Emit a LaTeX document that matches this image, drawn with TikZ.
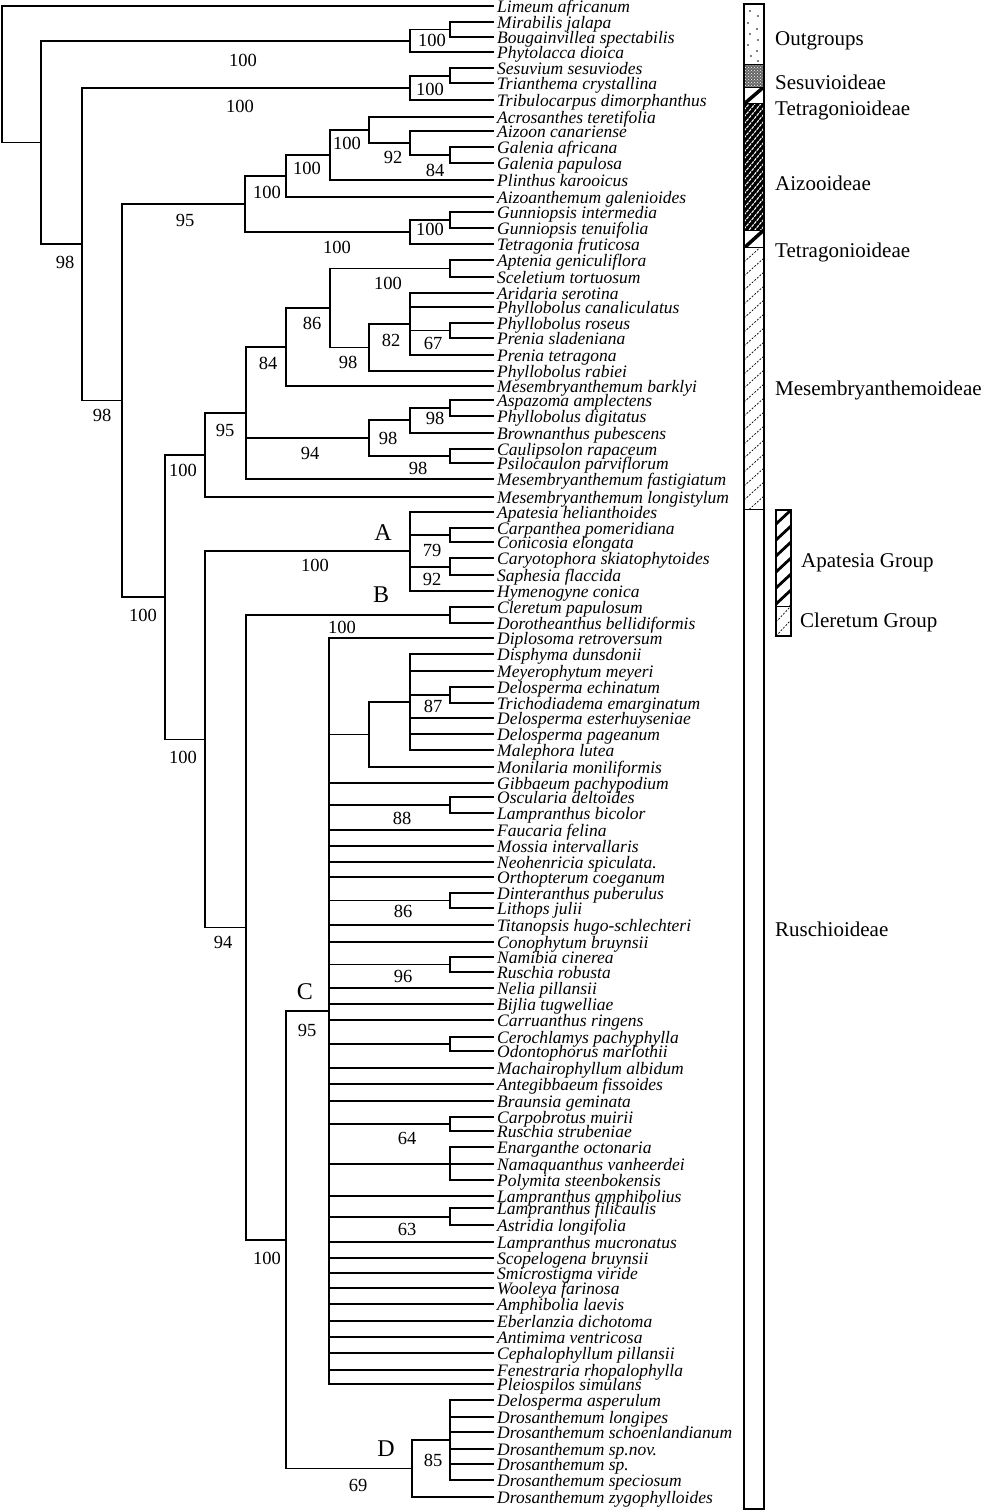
\documentclass[tikz,border=0pt]{standalone}
\usepackage{fontspec}
\setmainfont{Liberation Serif}
\usetikzlibrary{calc,patterns}
\newcommand\lf[3]{\node[leaf] (#1) at (493,#2) {#3};}
\newcommand\tn[4]{\path let \p1=(#3), \p2=(#4) in (#2pt,{0.5*(\y1+\y2)}) coordinate (#1);}
\newcommand\ed[2]{\foreach \ch in {#2}{\draw[br] (#1) |- (\ch);}}
\begin{document}
\begin{tikzpicture}[x=1pt,y=-1pt,
  leaf/.style={anchor=west,inner xsep=4pt,inner ysep=0pt,text height=13pt,text depth=0pt,font=\fontsize{17.5}{17.5}\selectfont\itshape},
  br/.style={line width=1.7pt,line cap=rect},
  bs/.style={inner sep=0pt,font=\fontsize{18.5}{18.5}\selectfont},
  cl/.style={inner sep=0pt,font=\fontsize{24}{24}\selectfont},
  grp/.style={anchor=base west,inner sep=0pt,font=\fontsize{21}{21}\selectfont},
  barline/.style={line width=1.5pt},
  thinhatch/.style={line width=0.7pt,dash pattern=on 2pt off 1.5pt},
]
\useasboundingbox (0,0) rectangle (990,1512);
\fill[white] (0,0) rectangle (990,1512);
% ---------------- leaves
\lf{L1}{6}{Limeum africanum}
\lf{L2}{21.7}{Mirabilis jalapa}
\lf{L3}{37.3}{Bougainvillea spectabilis}
\lf{L4}{52.3}{Phytolacca dioica}
\lf{L5}{68.3}{Sesuvium sesuviodes}
\lf{L6}{83.3}{Trianthema crystallina}
\lf{L7}{100}{Tribulocarpus dimorphanthus}
\lf{L8}{116.7}{Acrosanthes teretifolia}
\lf{L9}{130.7}{Aizoon canariense}
\lf{L10}{146.7}{Galenia africana}
\lf{L11}{163.3}{Galenia papulosa}
\lf{L12}{180}{Plinthus karooicus}
\lf{L13}{196.7}{Aizoanthemum galenioides}
\lf{L14}{212.3}{Gunniopsis intermedia}
\lf{L15}{227.7}{Gunniopsis tenuifolia}
\lf{L16}{244}{Tetragonia fruticosa}
\lf{L17}{260}{Aptenia geniculiflora}
\lf{L18}{276.7}{Sceletium tortuosum}
\lf{L19}{292.7}{Aridaria serotina}
\lf{L20}{306.7}{Phyllobolus canaliculatus}
\lf{L21}{322.7}{Phyllobolus roseus}
\lf{L22}{338.3}{Prenia sladeniana}
\lf{L23}{355}{Prenia tetragona}
\lf{L24}{371}{Phyllobolus rabiei}
\lf{L25}{386}{Mesembryanthemum barklyi}
\lf{L26}{400}{Aspazoma amplectens}
\lf{L27}{415.7}{Phyllobolus digitatus}
\lf{L28}{432.7}{Brownanthus pubescens}
\lf{L29}{449.3}{Caulipsolon rapaceum}
\lf{L30}{463.3}{Psilocaulon parviflorum}
\lf{L31}{479.3}{Mesembryanthemum fastigiatum}
\lf{L32}{496.7}{Mesembryanthemum longistylum}
\lf{L33}{511.7}{Apatesia helianthoides}
\lf{L34}{528.3}{Carpanthea pomeridiana}
\lf{L35}{542.3}{Conicosia elongata}
\lf{L36}{558.3}{Caryotophora skiatophytoides}
\lf{L37}{575}{Saphesia flaccida}
\lf{L38}{590.7}{Hymenogyne conica}
\lf{L39}{607.3}{Cleretum papulosum}
\lf{L40}{623.3}{Dorotheanthus bellidiformis}
\lf{L41}{638.3}{Diplosoma retroversum}
\lf{L42}{654.3}{Disphyma dunsdonii}
\lf{L43}{670.7}{Meyerophytum meyeri}
\lf{L44}{687.3}{Delosperma echinatum}
\lf{L45}{703.3}{Trichodiadema emarginatum}
\lf{L46}{718.3}{Delosperma esterhuyseniae}
\lf{L47}{734}{Delosperma pageanum}
\lf{L48}{750}{Malephora lutea}
\lf{L49}{766.7}{Monilaria moniliformis}
\lf{L50}{782.7}{Gibbaeum pachypodium}
\lf{L51}{796.7}{Oscularia deltoides}
\lf{L52}{813.3}{Lampranthus bicolor}
\lf{L53}{830}{Faucaria felina}
\lf{L54}{846}{Mossia intervallaris}
\lf{L55}{861.7}{Neohenricia spiculata.}
\lf{L56}{876.7}{Orthopterum coeganum}
\lf{L57}{892.7}{Dinteranthus puberulus}
\lf{L58}{908.3}{Lithops julii}
\lf{L59}{925}{Titanopsis hugo-schlechteri}
\lf{L60}{941.7}{Conophytum bruynsii}
\lf{L61}{957.3}{Namibia cinerea}
\lf{L62}{971.7}{Ruschia robusta}
\lf{L63}{988.3}{Nelia pillansii}
\lf{L64}{1004.3}{Bijlia tugwelliae}
\lf{L65}{1020}{Carruanthus ringens}
\lf{L66}{1036.7}{Cerochlamys pachyphylla}
\lf{L67}{1051}{Odontophorus marlothii}
\lf{L68}{1067.7}{Machairophyllum albidum}
\lf{L69}{1084.3}{Antegibbaeum fissoides}
\lf{L70}{1100.7}{Braunsia geminata}
\lf{L71}{1116.7}{Carpobrotus muirii}
\lf{L72}{1131}{Ruschia strubeniae}
\lf{L73}{1147.3}{Enarganthe octonaria}
\lf{L74}{1164}{Namaquanthus vanheerdei}
\lf{L75}{1180}{Polymita steenbokensis}
\lf{L76}{1196}{Lampranthus amphibolius}
\lf{L77}{1208.3}{Lampranthus filicaulis}
\lf{L78}{1225}{Astridia longifolia}
\lf{L79}{1241.7}{Lampranthus mucronatus}
\lf{L80}{1257.7}{Scopelogena bruynsii}
\lf{L81}{1273.3}{Smicrostigma viride}
\lf{L82}{1288.3}{Wooleya farinosa}
\lf{L83}{1304.3}{Amphibolia laevis}
\lf{L84}{1320.7}{Eberlanzia dichotoma}
\lf{L85}{1337.3}{Antimima ventricosa}
\lf{L86}{1353.3}{Cephalophyllum pillansii}
\lf{L87}{1370}{Fenestraria rhopalophylla}
\lf{L88}{1384}{Pleiospilos simulans}
\lf{L89}{1400}{Delosperma asperulum}
\lf{L90}{1416.7}{Drosanthemum longipes}
\lf{L91}{1432.3}{Drosanthemum schoenlandianum}
\lf{L92}{1449}{Drosanthemum sp.nov.}
\lf{L93}{1464}{Drosanthemum sp.}
\lf{L94}{1480}{Drosanthemum speciosum}
\lf{L95}{1496.7}{Drosanthemum zygophylloides}
% ---------------- internal nodes
\tn{nMB}{450}{L2}{L3}
\tn{nNyc}{410}{nMB}{L4}
\tn{nST}{450}{L5}{L6}
\tn{nSes}{410}{nST}{L7}
\tn{aFg}{450}{L10}{L11}
\tn{aF}{410}{L9}{aFg}
\tn{aC}{369}{L8}{aF}
\tn{aB}{330}{aC}{L12}
\tn{aA}{286}{aB}{L13}
\tn{aGg}{450}{L14}{L15}
\tn{aG}{410}{aGg}{L16}
\tn{nAiz}{245}{aA}{aG}
\tn{mCa}{450}{L17}{L18}
\tn{mF}{450}{L21}{L22}
\tn{mE}{410}{L19}{L23}
\tn{mD}{369}{mE}{L24}
\tn{mC}{330}{mCa}{mD}
\tn{mB}{286}{mC}{L25}
\tn{mHa}{450}{L26}{L27}
\tn{mH}{410}{mHa}{L28}
\tn{mI}{450}{L29}{L30}
\tn{mG}{369}{mH}{mI}
\tn{mA}{246}{mB}{L31}
\tn{nMes}{205}{mA}{L32}
\tn{pA}{450}{L34}{L35}
\tn{pB}{450}{L36}{L37}
\tn{nA}{410}{L33}{L38}
\tn{nB}{450}{L39}{L40}
\tn{cBa}{450}{L44}{L45}
\tn{cB}{410}{L42}{L48}
\tn{cA}{369}{cB}{L49}
\tn{cC}{450}{L51}{L52}
\tn{cD}{450}{L57}{L58}
\tn{cE}{450}{L61}{L62}
\tn{cF}{450}{L66}{L67}
\tn{cG}{450}{L71}{L72}
\tn{cH}{450}{L73}{L75}
\tn{cI}{450}{L77}{L78}
\tn{nC}{329}{L41}{L88}
\tn{dA}{450}{L89}{L94}
\tn{nD}{412}{dA}{L95}
\tn{nG}{286}{nC}{nD}
\tn{nF}{246}{nB}{nG}
\tn{nE}{205}{nA}{nF}
\tn{nDd}{165}{nMes}{nE}
\tn{nCc}{122}{nAiz}{nDd}
\tn{nBb}{82}{nSes}{nCc}
\tn{nAa}{41}{nNyc}{nBb}
\path let \p1=(L1) in (2pt,\y1) coordinate (R);
% ---------------- branches
\ed{R}{L1,nAa}
\ed{nAa}{nNyc,nBb}
\ed{nNyc}{nMB,L4}
\ed{nMB}{L2,L3}
\ed{nBb}{nSes,nCc}
\ed{nSes}{nST,L7}
\ed{nST}{L5,L6}
\ed{nCc}{nAiz,nDd}
\ed{nAiz}{aA,aG}
\ed{aA}{aB,L13}
\ed{aB}{aC,L12}
\ed{aC}{L8,aF}
\ed{aF}{L9,aFg}
\ed{aFg}{L10,L11}
\ed{aG}{aGg,L16}
\ed{aGg}{L14,L15}
\ed{nDd}{nMes,nE}
\ed{nMes}{mA,L32}
\ed{mA}{mB,mG,L31}
\ed{mB}{mC,L25}
\ed{mC}{mCa,mD}
\ed{mCa}{L17,L18}
\ed{mD}{mE,L24}
\ed{mE}{L19,L20,mF,L23}
\ed{mF}{L21,L22}
\ed{mG}{mH,mI}
\ed{mH}{mHa,L28}
\ed{mHa}{L26,L27}
\ed{mI}{L29,L30}
\ed{nE}{nA,nF}
\ed{nA}{L33,pA,pB,L38}
\ed{pA}{L34,L35}
\ed{pB}{L36,L37}
\ed{nF}{nB,nG}
\ed{nB}{L39,L40}
\ed{nG}{nC,nD}
\ed{nC}{L41,cA,L50,cC,L53,L54,L55,L56,cD,L59,L60,cE,L63,L64,L65,cF,L68,L69,L70,cG,cH,L76,cI,L79,L80,L81,L82,L83,L84,L85,L86,L87,L88}
\ed{cA}{cB,L49}
\ed{cB}{L42,L43,cBa,L46,L47,L48}
\ed{cBa}{L44,L45}
\ed{cC}{L51,L52}
\ed{cD}{L57,L58}
\ed{cE}{L61,L62}
\ed{cF}{L66,L67}
\ed{cG}{L71,L72}
\ed{cH}{L73,L74,L75}
\ed{cI}{L77,L78}
\ed{nD}{dA,L95}
\ed{dA}{L89,L90,L91,L92,L93,L94}
% ---------------- support values
\node[bs] (s1) at (432,40) {100};
\node[bs] (s2) at (243,60) {100};
\node[bs] (s3) at (430,89) {100};
\node[bs] (s4) at (240,106) {100};
\node[bs] (s5) at (347,143) {100};
\node[bs] (s6) at (393,157) {92};
\node[bs] (s7) at (435,170) {84};
\node[bs] (s8) at (307,168) {100};
\node[bs] (s9) at (267,192) {100};
\node[bs] (s10) at (185,220) {95};
\node[bs] (s11) at (430,229) {100};
\node[bs] (s12) at (337,247) {100};
\node[bs] (s13) at (65,262) {98};
\node[bs] (s14) at (388,283) {100};
\node[bs] (s15) at (312,323) {86};
\node[bs] (s16) at (391,340) {82};
\node[bs] (s17) at (433,343) {67};
\node[bs] (s18) at (348,362) {98};
\node[bs] (s19) at (268,363) {84};
\node[bs] (s20) at (102,415) {98};
\node[bs] (s21) at (435,418) {98};
\node[bs] (s22) at (225,430) {95};
\node[bs] (s23) at (388,438) {98};
\node[bs] (s24) at (310,453) {94};
\node[bs] (s25) at (418,468) {98};
\node[bs] (s26) at (183,470) {100};
\node[bs] (s27) at (432,550) {79};
\node[bs] (s28) at (315,565) {100};
\node[bs] (s29) at (432,579) {92};
\node[bs] (s30) at (143,615) {100};
\node[bs] (s31) at (342,627) {100};
\node[bs] (s32) at (433,706) {87};
\node[bs] (s33) at (183,757) {100};
\node[bs] (s34) at (402,818) {88};
\node[bs] (s35) at (403,911) {86};
\node[bs] (s36) at (223,942) {94};
\node[bs] (s37) at (403,976) {96};
\node[bs] (s38) at (307,1030) {95};
\node[bs] (s39) at (407,1138) {64};
\node[bs] (s40) at (407,1229) {63};
\node[bs] (s41) at (267,1258) {100};
\node[bs] (s42) at (433,1460) {85};
\node[bs] (s43) at (358,1485) {69};
\node[cl] (kA) at (383,533) {A};
\node[cl] (kB) at (381,595) {B};
\node[cl] (kC) at (305,992) {C};
\node[cl] (kD) at (386,1449) {D};
% ---------------- classification bar
% Outgroups (dots)
\foreach \px/\py in {750/11,758/16,748/23,757/29,750/34,758/40,748/45,757/51,751/56,758/61}
  \fill (\px,\py) circle (0.9);
% Sesuvioideae
\fill[black!60] (744,65) rectangle (764,87);
\fill[pattern=crosshatch dots,pattern color=white] (744,65) rectangle (764,87);
% Tetragonioideae
\begin{scope}
  \clip (744,87) rectangle (764,103);
  \draw[line width=3.5pt] (744,104) -- (765,86);
\end{scope}
% Aizooideae
\begin{scope}
  \clip (744,103) rectangle (764,230);
  \fill (744,103) rectangle (764,230);
  \foreach \k in {0,7,...,160}
    \draw[white,line width=1.1pt,dash pattern=on 3pt off 1pt] (744,103+\k) -- (764,79+\k);
\end{scope}
% Tetragonioideae
\begin{scope}
  \clip (744,230) rectangle (764,247);
  \draw[line width=3.5pt] (744,248) -- (765,229);
\end{scope}
% Mesembryanthemoideae
\begin{scope}
  \clip (744,247) rectangle (764,509);
  \foreach \k in {0,14,...,280}
    \draw[thinhatch] (744,262+\k) -- (764,244+\k);
\end{scope}
\draw[barline] (744,4) rectangle (764,1509);
\foreach \yy in {65,87,103,230,247,509}
  \draw[line width=1pt] (744,\yy) -- (764,\yy);
% Apatesia / Cleretum boxes
\begin{scope}
  \clip (776,510) rectangle (791,606);
  \foreach \k in {0,16,...,112}
    \draw[line width=2.8pt] (776,524+\k) -- (791,510+\k);
\end{scope}
\begin{scope}
  \clip (776,606) rectangle (791,636);
  \foreach \k in {0,14,28}
    \draw[thinhatch] (776,622+\k) -- (791,606+\k);
\end{scope}
\draw[barline] (776,510) rectangle (791,636);
\draw[line width=1pt] (776,606) -- (791,606);
% ---------------- group labels
\node[grp] (g1) at (775,46) {Outgroups};
\node[grp] (g2) at (775,89) {Sesuvioideae};
\node[grp] (g3) at (775,115) {Tetragonioideae};
\node[grp] (g4) at (775,190) {Aizooideae};
\node[grp] (g5) at (775,257) {Tetragonioideae};
\node[grp] (g6) at (775,395) {Mesembryanthemoideae};
\node[grp] (g7) at (801,567) {Apatesia Group};
\node[grp] (g8) at (800,627) {Cleretum Group};
\node[grp] (g9) at (775,936) {Ruschioideae};
\end{tikzpicture}
\end{document}
